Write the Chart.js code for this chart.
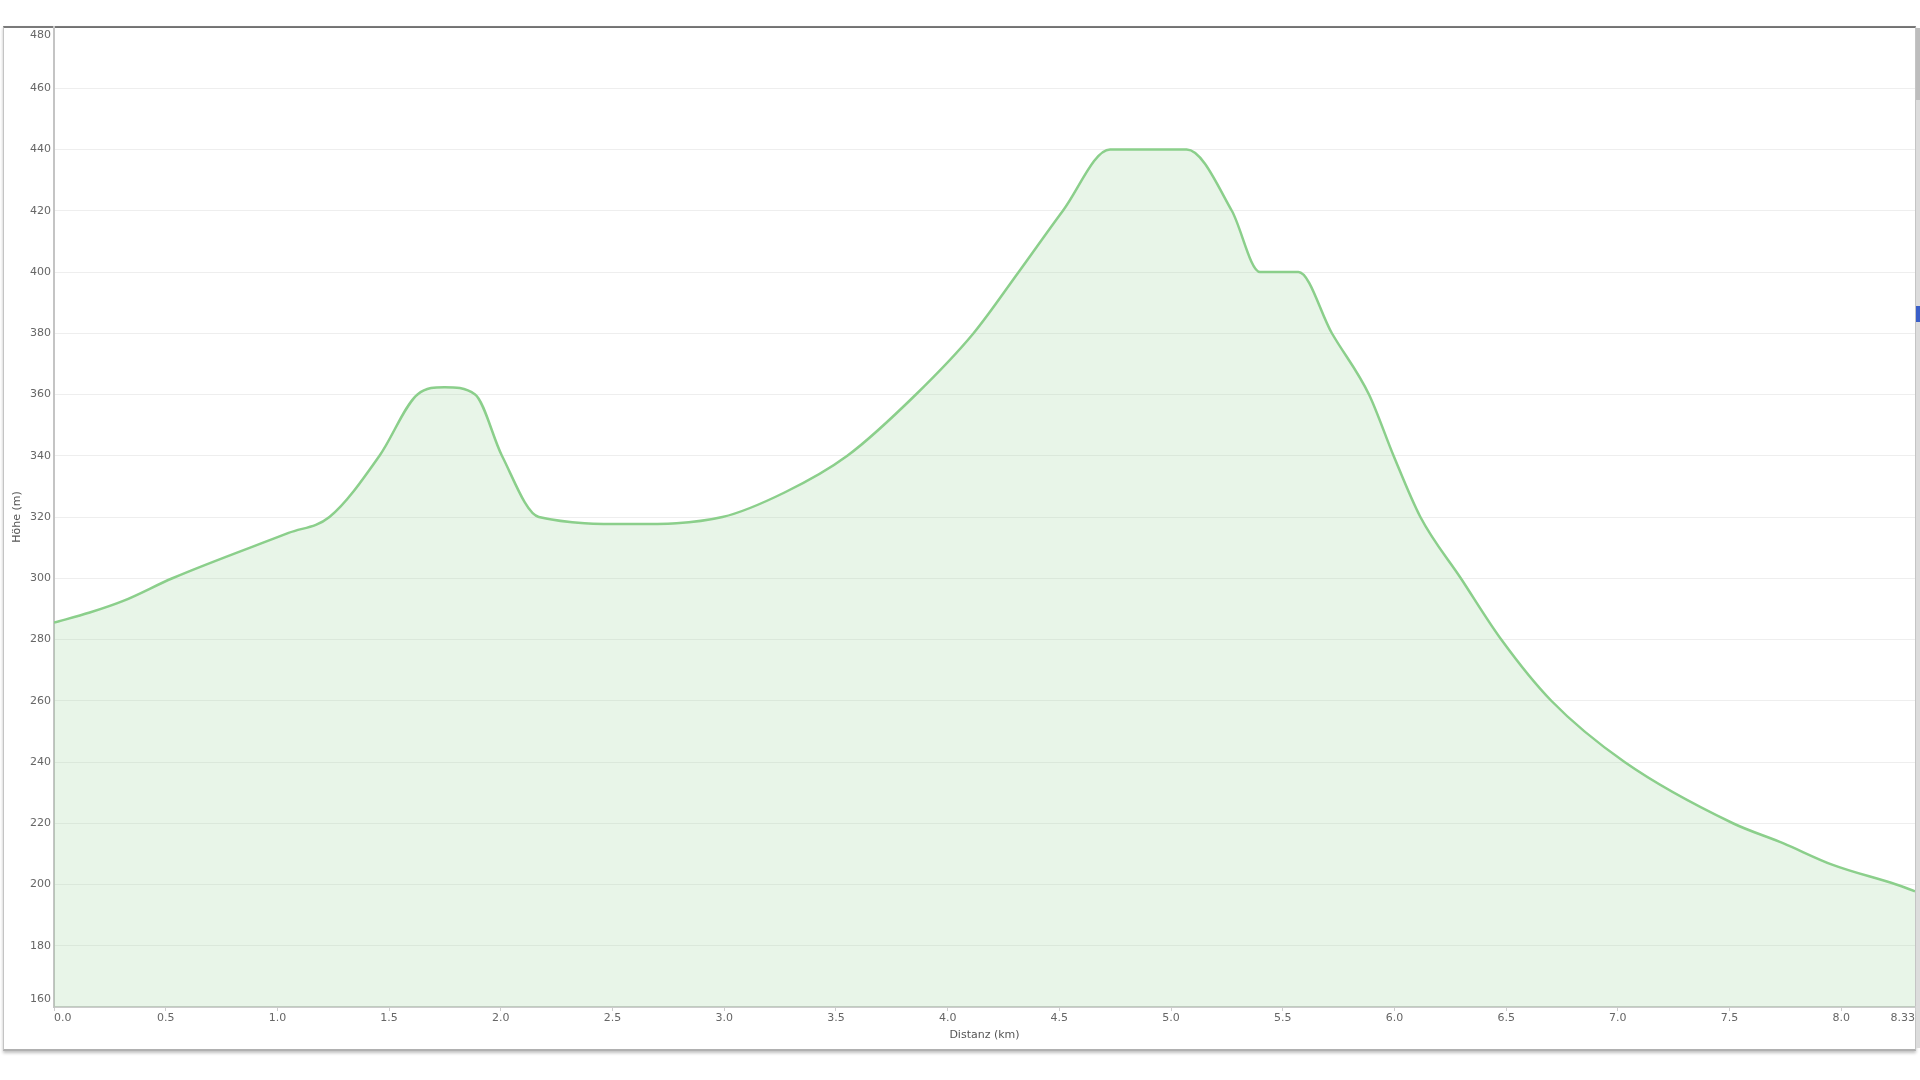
<!DOCTYPE html>
<html>
<head>
<meta charset="utf-8">
<script src="https://cdn.jsdelivr.net/npm/chart.js@4.4.1/dist/chart.umd.min.js"></script>
<style>
  html, body { margin: 0; padding: 0; background: #ffffff; width: 1920px; height: 1080px; overflow: hidden; }
  #card {
    position: absolute; left: 3px; top: 26px; width: 1911px; height: 1021px;
    border-top: 2px solid #7a7a7a; border-left: 1px solid #c4c4c4; border-right: 1px solid #c4c4c4;
    border-bottom: 2px solid #b0b0b0; background: #ffffff;
    box-shadow: 0 2px 3px rgba(0,0,0,0.25);
  }
  #edge { position: absolute; left: 1916px; top: 28px; width: 4px; height: 1020px; background: #dcdcdc; }
  #edgeTop { position: absolute; left: 1916px; top: 28px; width: 4px; height: 72px; background: #bdbdbd; }
  #blue { position: absolute; left: 1916px; top: 306px; width: 4px; height: 16px; background: #3a5fc8; }
  #wrap { position: absolute; left: 0; top: 0; width: 1920px; height: 1080px; }
</style>
</head>
<body>
<div id="card"></div>
<div id="edge"></div>
<div id="edgeTop"></div>
<div id="blue"></div>
<div id="wrap"><canvas id="c" width="1920" height="1080" style="width:1920px;height:1080px"></canvas></div>
<script>
// Distance along the route (km) and elevation (m), read from the profile
const distanceKm = [0, 0.16, 0.31, 0.53, 1.05, 1.233, 1.457, 1.627, 1.748, 1.885, 2.005, 2.17, 2.58, 2.992, 3.27, 3.551, 3.858, 4.116, 4.318, 4.516, 4.727, 5.07, 5.272, 5.398, 5.57, 5.72, 5.886, 5.996, 6.116, 6.297, 6.478, 6.702, 7.03, 7.515, 7.739, 7.962, 8.246, 8.33];
const elevationM = [285.5, 288.8, 292.6, 300, 314.8, 320, 340, 360, 362.4, 360, 340, 320, 317.7, 320, 328, 340, 360, 380, 400, 420, 440, 440, 420, 400, 400, 380, 360, 340, 320, 300, 280, 260, 240, 220, 213.5, 206.4, 200, 197.8];

const xTickValues = [0, 0.5, 1.0, 1.5, 2.0, 2.5, 3.0, 3.5, 4.0, 4.5, 5.0, 5.5, 6.0, 6.5, 7.0, 7.5, 8.0, 8.33];
const xTickLabels = ["0.0", "0.5", "1.0", "1.5", "2.0", "2.5", "3.0", "3.5", "4.0", "4.5", "5.0", "5.5", "6.0", "6.5", "7.0", "7.5", "8.0", "8.33"];
const yTickValues = [160, 180, 200, 220, 240, 260, 280, 300, 320, 340, 360, 380, 400, 420, 440, 460, 480];

const xTitle = "Distanz (km)";
const yTitle = "Höhe (m)";

const FONT = { family: "'DejaVu Sans', Verdana, sans-serif", size: 11 };
const yMin = yTickValues[0], yMax = yTickValues[yTickValues.length - 1];
const xMin = xTickValues[0], xMax = xTickValues[xTickValues.length - 1];

new Chart(document.getElementById('c'), {
  type: 'line',
  data: {
    datasets: [{
      data: distanceKm.map((d, i) => ({ x: d, y: elevationM[i] })),
      borderColor: '#8bcf8b',
      backgroundColor: 'rgba(139, 207, 139, 0.2)',
      borderWidth: 2.5,
      fill: 'start',
      pointRadius: 0,
      cubicInterpolationMode: 'monotone'
    }]
  },
  options: {
    responsive: false,
    animation: false,
    layout: { padding: { left: 0, top: 27, right: 5, bottom: 0 } },
    plugins: { legend: { display: false }, tooltip: { enabled: false } },
    scales: {
      x: {
        type: 'linear',
        min: xMin, max: xMax,
        afterBuildTicks: s => { s.ticks = xTickValues.map(v => ({ value: v })); },
        afterFit: s => { s.height = 73; },
        ticks: {
          autoSkip: false, maxRotation: 0, align: 'inner', padding: 1,
          color: '#666', font: FONT,
          callback: (v, i) => xTickLabels[i]
        },
        grid: { drawOnChartArea: false, drawTicks: true, tickLength: 4, color: '#cccccc' },
        border: { color: '#cccccc', width: 2 },
        title: { display: true, text: xTitle, color: '#555', font: FONT, padding: { top: 0, bottom: 38 } }
      },
      y: {
        type: 'linear',
        min: yMin, max: yMax,
        afterBuildTicks: s => { s.ticks = yTickValues.map(v => ({ value: v })); },
        afterFit: s => { s.width = 54; },
        ticks: {
          padding: 3, color: '#666',
          font: Object.assign({}, FONT, { lineHeight: 1.45 }),
          callback: v => v === yMax ? ['', String(v)] : (v === yMin ? [String(v), ''] : String(v))
        },
        grid: { drawTicks: false, color: 'rgba(0,0,0,0.065)', lineWidth: 1 },
        border: { color: '#c4c4c4', width: 2 },
        title: { display: true, text: yTitle, color: '#555', font: FONT, padding: { top: 11, bottom: 0 } }
      }
    }
  }
});
</script>
</body>
</html>
